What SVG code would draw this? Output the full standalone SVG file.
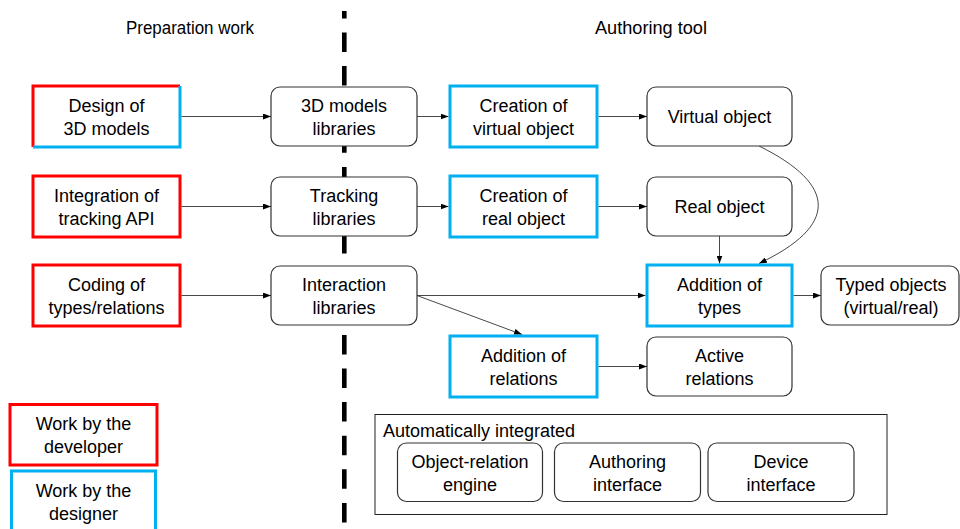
<svg xmlns="http://www.w3.org/2000/svg" width="960" height="529" viewBox="0 0 960 529">
<style>
text{font-family:"Liberation Sans",Arial,sans-serif;font-size:18px;fill:#000;text-anchor:middle}
.h{font-size:17.5px}
.rb{fill:#fff;stroke:#333;stroke-width:1.2}
.red{fill:#fff;stroke:#ff0000;stroke-width:3}
.blue{fill:#fff;stroke:#00b0f0;stroke-width:3}
.c{fill:none;stroke:#333;stroke-width:0.9}
</style>
<defs>
<marker id="ah" markerUnits="userSpaceOnUse" markerWidth="8" markerHeight="6" refX="8" refY="3" orient="auto">
<path d="M0,0 L8,3 L0,6 z" fill="#000"/>
</marker>
</defs>
<rect width="960" height="529" fill="#fff"/>
<path id="separator" d="M344.3 11 V529" stroke="#000" stroke-width="4.6" stroke-dasharray="19.5 14.1" stroke-dashoffset="12.1" fill="none"/>
<text class="h" x="190" y="33.5" textLength="128" lengthAdjust="spacingAndGlyphs">Preparation work</text>
<text class="h" x="651" y="33.5" textLength="112" lengthAdjust="spacingAndGlyphs">Authoring tool</text>

<g id="connectors">
<path class="c" marker-end="url(#ah)" d="M181.5 116.5 H271"/>
<path class="c" marker-end="url(#ah)" d="M417 116.5 H448.5"/>
<path class="c" marker-end="url(#ah)" d="M598.5 116.5 H647"/>
<path class="c" marker-end="url(#ah)" d="M181.5 206.5 H271"/>
<path class="c" marker-end="url(#ah)" d="M417 206.5 H448.5"/>
<path class="c" marker-end="url(#ah)" d="M598.5 206.5 H647"/>
<path class="c" marker-end="url(#ah)" d="M181.5 295.5 H271"/>
<path class="c" marker-end="url(#ah)" d="M417 295.5 H645.5"/>
<path class="c" marker-end="url(#ah)" d="M417 295.5 L522 334.5"/>
<path class="c" marker-end="url(#ah)" d="M719.5 236 V263.5"/>
<path class="c" marker-end="url(#ah)" d="M759 146 C838 185 838 226 759 263.5"/>
<path class="c" marker-end="url(#ah)" d="M793.5 295.5 H821"/>
<path class="c" marker-end="url(#ah)" d="M598.5 366.5 H647"/>
</g>

<g id="design3d">
<path d="M33 147 V86 H180" fill="none" stroke="#ff0000" stroke-width="3"/>
<path d="M180 86 V147 H33" fill="none" stroke="#00b0f0" stroke-width="3"/>
<text x="106.5" y="112">Design of</text>
<text x="106.5" y="134.5">3D models</text>
</g>
<g id="models-libraries">
<rect class="rb" x="271" y="87" width="146" height="59" rx="9"/>
<text x="344" y="112">3D models</text>
<text x="344" y="134.5">libraries</text>
</g>
<g id="creation-virtual">
<rect class="blue" x="450" y="86" width="147" height="61"/>
<text x="523.5" y="112">Creation of</text>
<text x="523.5" y="134.5">virtual object</text>
</g>
<g id="virtual-object">
<rect class="rb" x="647" y="87" width="145" height="59" rx="9"/>
<text x="719.5" y="123">Virtual object</text>
</g>

<g id="integration-tracking">
<rect class="red" x="33" y="176" width="147" height="61"/>
<text x="106.5" y="202">Integration of</text>
<text x="106.5" y="224.5">tracking API</text>
</g>
<g id="tracking-libraries">
<rect class="rb" x="271" y="177" width="146" height="59" rx="9"/>
<text x="344" y="202">Tracking</text>
<text x="344" y="224.5">libraries</text>
</g>
<g id="creation-real">
<rect class="blue" x="450" y="176" width="147" height="61"/>
<text x="523.5" y="202">Creation of</text>
<text x="523.5" y="224.5">real object</text>
</g>
<g id="real-object">
<rect class="rb" x="647" y="177" width="145" height="59" rx="9"/>
<text x="719.5" y="213">Real object</text>
</g>

<g id="coding-types">
<rect class="red" x="33" y="265" width="147" height="61"/>
<text x="106.5" y="291">Coding of</text>
<text x="106.5" y="313.5">types/relations</text>
</g>
<g id="interaction-libraries">
<rect class="rb" x="271" y="266" width="146" height="59" rx="9"/>
<text x="344" y="291">Interaction</text>
<text x="344" y="313.5">libraries</text>
</g>
<g id="addition-types">
<rect class="blue" x="647" y="265" width="145" height="61"/>
<text x="719.5" y="291">Addition of</text>
<text x="719.5" y="313.5">types</text>
</g>
<g id="typed-objects">
<rect class="rb" x="821" y="266" width="138" height="59" rx="9"/>
<text x="891" y="291">Typed objects</text>
<text x="891" y="313.5">(virtual/real)</text>
</g>

<g id="addition-relations">
<rect class="blue" x="450" y="336" width="147" height="61"/>
<text x="523.5" y="362">Addition of</text>
<text x="523.5" y="384.5">relations</text>
</g>
<g id="active-relations">
<rect class="rb" x="647" y="337" width="145" height="59" rx="9"/>
<text x="719.5" y="362">Active</text>
<text x="719.5" y="384.5">relations</text>
</g>

<g id="legend-developer">
<rect class="red" x="10" y="404.5" width="147" height="60.5"/>
<text x="83.5" y="430">Work by the</text>
<text x="83.5" y="452.5">developer</text>
</g>
<g id="legend-designer">
<rect class="blue" x="11.5" y="471" width="144" height="61"/>
<text x="83.5" y="497">Work by the</text>
<text x="83.5" y="519.5">designer</text>
</g>

<g id="auto-integrated">
<rect x="375" y="414.5" width="512" height="100" fill="#fff" stroke="#222" stroke-width="1"/>
<text x="383" y="437" style="text-anchor:start">Automatically integrated</text>
</g>
<g id="object-relation-engine">
<rect class="rb" x="397.5" y="443" width="145" height="58.5" rx="9"/>
<text x="470" y="468">Object-relation</text>
<text x="470" y="490.5">engine</text>
</g>
<g id="authoring-interface">
<rect class="rb" x="554.5" y="443" width="146" height="58.5" rx="9"/>
<text x="627.5" y="468">Authoring</text>
<text x="627.5" y="490.5">interface</text>
</g>
<g id="device-interface">
<rect class="rb" x="708" y="443" width="146" height="58.5" rx="9"/>
<text x="781" y="468">Device</text>
<text x="781" y="490.5">interface</text>
</g>
</svg>
